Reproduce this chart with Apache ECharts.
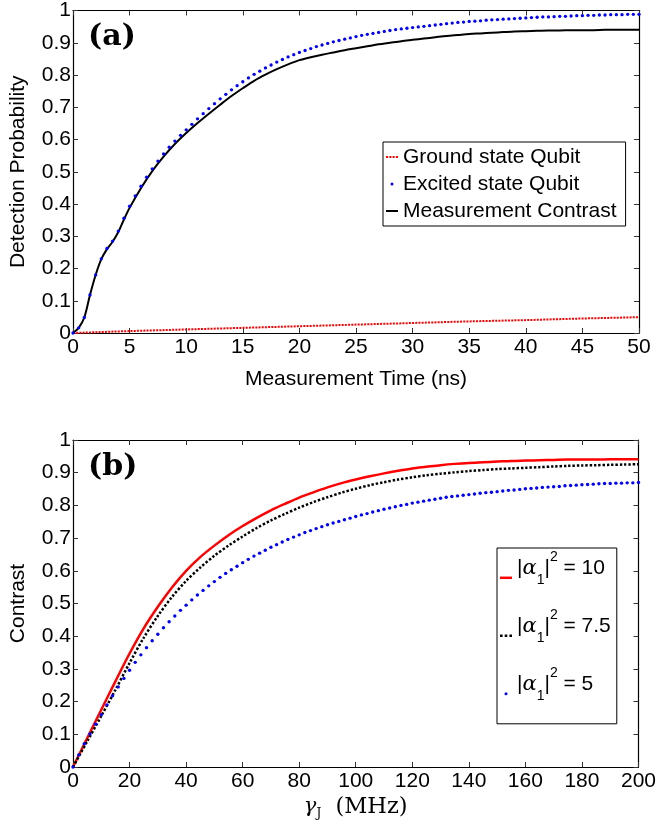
<!DOCTYPE html>
<html>
<head>
<meta charset="utf-8">
<script src="https://cdn.jsdelivr.net/npm/echarts/dist/echarts.min.js"></script>
<style>html,body{margin:0;padding:0;background:#fff}#c{width:659px;height:826px}</style>
</head>
<body>
<div id="c"></div>
<script>
// ---------- Panel (a) data ----------
const tExcited = [0,0.5,1,1.5,2,2.5,3,3.5,4,4.5,
  5,5.5,6,6.5,7,7.5,8,8.5,9,9.5,
  10,10.5,11,11.5,12,12.5,13,13.5,14,14.5,
  15,15.5,16,16.5,17,17.5,18,18.5,19,19.5,
  20,20.5,21,21.5,22,22.5,23,23.5,24,24.5,
  25,25.5,26,26.5,27,27.5,28,28.5,29,29.5,
  30,30.5,31,31.5,32,32.5,33,33.5,34,34.5,
  35,35.5,36,36.5,37,37.5,38,38.5,39,39.5,
  40,40.5,41,41.5,42,42.5,43,43.5,44,44.5,
  45,45.5,46,46.5,47,47.5,48,48.5,49,49.5,50];
const excitedQubit = [0,0.016,0.048,0.118,0.18,0.23,0.262,0.285,0.316,0.356,
  0.393,0.425,0.455,0.483,0.509,0.533,0.555,0.576,0.595,0.613,
  0.630,0.647,0.664,0.680,0.696,0.711,0.726,0.740,0.754,0.767,
  0.779,0.791,0.802,0.812,0.822,0.831,0.840,0.848,0.856,0.863,
  0.870,0.876,0.882,0.888,0.893,0.898,0.903,0.907,0.911,0.915,
  0.919,0.923,0.926,0.929,0.932,0.935,0.938,0.941,0.943,0.945,
  0.947,0.949,0.951,0.953,0.955,0.957,0.959,0.961,0.963,0.964,
  0.966,0.967,0.968,0.970,0.971,0.972,0.973,0.974,0.975,0.976,
  0.977,0.978,0.979,0.980,0.980,0.981,0.982,0.982,0.983,0.984,
  0.984,0.985,0.985,0.986,0.986,0.987,0.987,0.987,0.988,0.988,0.988];
const tLine = [0,0.5,1,1.5,2,2.5,3,3.5,4,4.5,
  5,6,7,8,9,10,11,12,13,14,15,16,17,18,19,20,
  21,22,23,24,25,26,27,28,29,30,31,32,33,34,35,
  36,37,38,39,40,41,42,43,44,45,46,47,48,49,50];
const measurementContrast = [0,0.016,0.048,0.118,0.18,0.229,0.26,0.283,0.313,0.352,
  0.388,0.449,0.502,0.547,0.586,0.62,0.651,0.68,0.708,0.735,0.759,0.782,0.801,0.818,0.833,0.846,
  0.855,0.863,0.870,0.877,0.883,0.889,0.895,0.900,0.905,0.909,0.913,0.917,0.921,0.924,0.927,
  0.929,0.931,0.933,0.935,0.936,0.937,0.938,0.938,0.939,0.939,0.939,0.940,0.940,0.940,0.940];
const tGround = [0,5,10,15,20,25,30,35,40,45,50];
const groundQubit = [0,0.006,0.011,0.016,0.021,0.026,0.031,0.036,0.040,0.045,0.049];

// ---------- Panel (b) data ----------
const gammaLine = [0,5,10,15,20,25,30,35,40,45,
  50,55,60,65,70,75,80,85,90,95,
  100,105,110,115,120,125,130,135,140,145,
  150,155,160,165,170,175,180,185,190,195,200];
const alpha10 = [0,0.088,0.175,0.262,0.347,0.424,0.49,0.549,0.6,0.642,
  0.677,0.709,0.737,0.762,0.785,0.805,0.824,0.84,0.855,0.868,
  0.879,0.889,0.898,0.906,0.913,0.918,0.923,0.927,0.93,0.932,
  0.934,0.936,0.937,0.938,0.939,0.94,0.94,0.94,0.941,0.941,0.941];
const alpha75 = [0,0.078,0.156,0.236,0.318,0.395,0.462,0.52,0.569,0.61,
  0.646,0.677,0.705,0.731,0.754,0.774,0.793,0.81,0.825,0.839,
  0.851,0.862,0.871,0.879,0.886,0.892,0.897,0.901,0.905,0.908,
  0.911,0.913,0.915,0.917,0.919,0.921,0.922,0.923,0.924,0.925,0.926];
const gammaDots = [0,2,4,6,8,10,12,14,16,18,
  20,22,24,26,28,30,32,34,36,38,
  40,42,44,46,48,50,52,54,56,58,
  60,62,64,66,68,70,72,74,76,78,
  80,82,84,86,88,90,92,94,96,98,
  100,102,104,106,108,110,112,114,116,118,
  120,122,124,126,128,130,132,134,136,138,
  140,142,144,146,148,150,152,154,156,158,
  160,162,164,166,168,170,172,174,176,178,
  180,182,184,186,188,190,192,194,196,198,200];
const alpha5 = [0,0.037,0.071,0.101,0.131,0.160,0.190,0.218,0.245,0.271,
  0.296,0.320,0.343,0.365,0.386,0.406,0.426,0.444,0.462,0.479,
  0.495,0.511,0.526,0.540,0.554,0.567,0.580,0.592,0.603,0.614,
  0.625,0.635,0.645,0.654,0.663,0.672,0.680,0.688,0.696,0.703,
  0.710,0.717,0.723,0.729,0.735,0.741,0.746,0.751,0.756,0.761,
  0.766,0.771,0.775,0.780,0.784,0.788,0.792,0.796,0.800,0.803,
  0.807,0.810,0.813,0.816,0.819,0.822,0.825,0.827,0.829,0.831,
  0.833,0.835,0.837,0.839,0.840,0.842,0.844,0.846,0.847,0.849,
  0.851,0.852,0.853,0.855,0.856,0.857,0.858,0.860,0.861,0.862,
  0.863,0.864,0.865,0.866,0.867,0.867,0.868,0.868,0.869,0.869,0.870];

const legendA = ['Ground state Qubit','Excited state Qubit','Measurement Contrast'];
const legendB = ['|α₁|² = 10','|α₁|² = 7.5','|α₁|² = 5'];

const zip = (xs, ys) => xs.map((x, i) => [x, ys[i]]);
const SANS = 'Liberation Sans';
const FS = 21;

function mkX(gi, max, interval, name, pos, nameGap, nameStyle) {
  return {
    type: 'value', gridIndex: gi, min: 0, max: max, interval: interval, position: pos,
    axisLine: {show: true, onZero: false, lineStyle: {color: '#000', width: 1.2}},
    axisTick: {show: true, inside: true, length: 5, lineStyle: {color: '#333', width: 1}},
    axisLabel: {show: pos === 'bottom', margin: 4, fontSize: FS, fontFamily: SANS, color: '#000'},
    splitLine: {show: false},
    name: pos === 'bottom' ? name : '', nameLocation: 'middle', nameGap: nameGap,
    nameTextStyle: nameStyle || {fontSize: FS, fontFamily: SANS, color: '#000'}
  };
}
function mkY(gi, name, pos) {
  return {
    type: 'value', gridIndex: gi, min: 0, max: 1, interval: 0.1, position: pos,
    axisLine: {show: true, onZero: false, lineStyle: {color: '#000', width: 1.2}},
    axisTick: {show: true, inside: true, length: 5, lineStyle: {color: '#333', width: 1}},
    axisLabel: {show: pos === 'left', margin: 2, fontSize: FS, fontFamily: SANS, color: '#000'},
    splitLine: {show: false},
    name: pos === 'left' ? name : '', nameLocation: 'middle', nameGap: 44,
    nameTextStyle: {fontSize: FS, fontFamily: SANS, color: '#000'}
  };
}

const chart = echarts.init(document.getElementById('c'), null, {renderer: 'canvas'});
chart.setOption({
  animation: false,
  backgroundColor: '#fff',
  grid: [
    {left: 73, top: 6, width: 566, height: 327},
    {left: 73, top: 440, width: 566, height: 327}
  ],
  xAxis: [
    mkX(0, 50, 5, 'Measurement Time (ns)', 'bottom', 36),
    mkX(0, 50, 5, '', 'top', 0),
    mkX(1, 200, 20, '{g|γ}{j|J}{m|  (MHz)}', 'bottom', 27, {
      color: '#000',
      rich: {
        g: {fontFamily: 'DejaVu Serif', fontStyle: 'italic', fontSize: 21, lineHeight: 26, color: '#000'},
        j: {fontFamily: 'DejaVu Serif', fontSize: 12, lineHeight: 18, verticalAlign: 'bottom', color: '#000'},
        m: {fontFamily: 'DejaVu Serif', fontSize: 22.5, lineHeight: 26, color: '#000'}
      }
    }),
    mkX(1, 200, 20, '', 'top', 0)
  ],
  yAxis: [
    mkY(0, 'Detection Probability', 'left'),
    mkY(0, '', 'right'),
    mkY(1, 'Contrast', 'left'),
    mkY(1, '', 'right')
  ],
  legend: [
    {
      orient: 'vertical', left: 383, top: 142, padding: [1.5, 9, 1.5, 3],
      borderColor: '#000', borderWidth: 1, backgroundColor: '#fff',
      itemWidth: 12, itemHeight: 3, itemGap: 0, selectedMode: false, symbolKeepAspect: true,
      itemStyle: {borderWidth: 0},
      textStyle: {fontFamily: SANS, fontSize: FS, color: '#000', lineHeight: 27},
      data: [
        {name: legendA[0], icon: 'path://M0,0h2v2h-2zM3.3,0h2v2h-2zM6.6,0h2v2h-2zM9.9,0h2v2h-2z'},
        {name: legendA[1], icon: 'circle'},
        {name: legendA[2], icon: 'path://M0,0h12v2h-12z'}
      ]
    },
    {
      orient: 'vertical', left: 497, top: 548, padding: [1.8, 6, 2, 3],
      borderColor: '#000', borderWidth: 1, backgroundColor: '#fff',
      itemWidth: 12, itemHeight: 3, itemGap: 2, selectedMode: false, symbolKeepAspect: true,
      itemStyle: {borderWidth: 0},
      textStyle: {
        fontFamily: SANS, fontSize: FS, color: '#000', lineHeight: 37, padding: [0, 0, 19, 0],
        rich: {
          t: {fontFamily: SANS, fontSize: FS, lineHeight: 37, color: '#000'},
          a: {fontFamily: 'DejaVu Serif', fontStyle: 'italic', fontSize: 21, lineHeight: 37, color: '#000'},
          s: {fontFamily: SANS, fontSize: 14, lineHeight: 14, verticalAlign: 'bottom', color: '#000'},
          p: {fontFamily: SANS, fontSize: 14, lineHeight: 29, verticalAlign: 'top', color: '#000'}
        }
      },
      formatter: function (name) {
        const v = name.split('= ')[1];
        return '{t||}{a|α}{s|1}{t||}{p|2}{t| = ' + v + '}';
      },
      data: [
        {name: legendB[0], icon: 'path://M0,0h12v2.5h-12z'},
        {name: legendB[1], icon: 'path://M0,0h2.2v2.2h-2.2zM4,0h2.2v2.2h-2.2zM8,0h2.2v2.2h-2.2z'},
        {name: legendB[2], icon: 'circle'}
      ]
    }
  ],
  graphic: [
    {type: 'text', x: 88, y: 37.5, z: 100,
     style: {text: '(a)', fontFamily: 'DejaVu Serif', fontWeight: 'bold', fontSize: 30, fill: '#000', verticalAlign: 'middle'}},
    {type: 'text', x: 88, y: 467.5, z: 100,
     style: {text: '(b)', fontFamily: 'DejaVu Serif', fontWeight: 'bold', fontSize: 30, fill: '#000', verticalAlign: 'middle'}}
  ],
  series: [
    {name: legendA[0], type: 'line', xAxisIndex: 0, yAxisIndex: 0, data: zip(tGround, groundQubit),
     symbol: 'none', color: '#ff0000', lineStyle: {color: '#ff0000', width: 2, type: [2, 1.2]}, z: 2},
    {name: legendA[2], type: 'line', xAxisIndex: 0, yAxisIndex: 0, data: zip(tLine, measurementContrast),
     symbol: 'none', smooth: 0.3, color: '#000', lineStyle: {color: '#000', width: 2}, z: 3},
    {name: legendA[1], type: 'scatter', xAxisIndex: 0, yAxisIndex: 0, data: zip(tExcited, excitedQubit),
     symbol: 'circle', symbolSize: 3.3, color: '#0000ff', itemStyle: {color: '#0000ff', opacity: 1}, z: 4},

    {name: legendB[0], type: 'line', xAxisIndex: 2, yAxisIndex: 2, data: zip(gammaLine, alpha10),
     symbol: 'none', smooth: 0.3, color: '#ff0000', lineStyle: {color: '#ff0000', width: 2.5}, z: 2},
    {name: legendB[1], type: 'line', xAxisIndex: 2, yAxisIndex: 2, data: zip(gammaLine, alpha75),
     symbol: 'none', smooth: 0.3, color: '#000', lineStyle: {color: '#000', width: 2.5, type: [2.4, 1.9]}, z: 3},
    {name: legendB[2], type: 'scatter', xAxisIndex: 2, yAxisIndex: 2, data: zip(gammaDots, alpha5),
     symbol: 'circle', symbolSize: 3.4, color: '#0000ff', itemStyle: {color: '#0000ff', opacity: 1}, z: 4}
  ]
});
</script>
</body>
</html>
